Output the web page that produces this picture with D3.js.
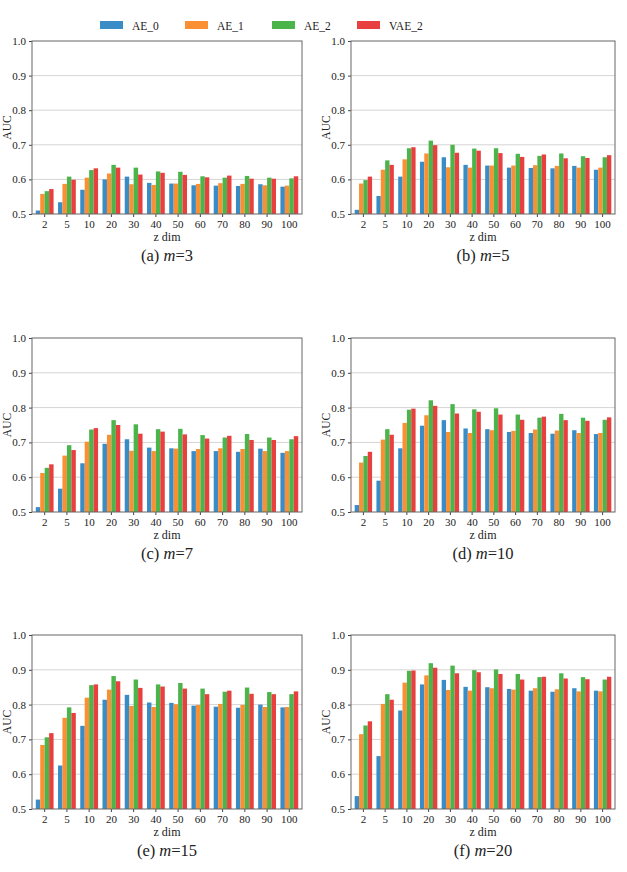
<!DOCTYPE html>
<html>
<head>
<meta charset="utf-8">
<script src="https://cdn.jsdelivr.net/npm/d3@7"></script>
<style>
  body { margin: 0; background: #fff; }
  text { font-family: "Liberation Serif", "DejaVu Serif", serif; fill: #222; }
</style>
</head>
<body>
<div id="chart"></div>
<script>
// categories (z dim) and series names
const zdims = ["2", "5", "10", "20", "30", "40", "50", "60", "70", "80", "90", "100"];
const seriesNames = ["AE_0", "AE_1", "AE_2", "VAE_2"];
const colors = ["#3a8cc6", "#fa8f33", "#4bb44b", "#e8403e"];
const yTicks = [0.5, 0.6, 0.7, 0.8, 0.9, 1.0];

// AUC values, one array per series for each panel
// (a) m=3
const m3_AE0  = [0.510, 0.534, 0.570, 0.600, 0.608, 0.590, 0.588, 0.583, 0.582, 0.581, 0.586, 0.579];
const m3_AE1  = [0.558, 0.587, 0.605, 0.617, 0.586, 0.584, 0.588, 0.587, 0.589, 0.587, 0.583, 0.582];
const m3_AE2  = [0.566, 0.608, 0.627, 0.642, 0.634, 0.623, 0.622, 0.609, 0.605, 0.610, 0.605, 0.603];
const m3_VAE2 = [0.572, 0.599, 0.632, 0.634, 0.614, 0.619, 0.613, 0.606, 0.611, 0.602, 0.602, 0.609];
// (b) m=5
const m5_AE0  = [0.512, 0.552, 0.608, 0.651, 0.664, 0.642, 0.640, 0.634, 0.633, 0.632, 0.639, 0.628];
const m5_AE1  = [0.588, 0.628, 0.658, 0.675, 0.635, 0.634, 0.640, 0.640, 0.641, 0.639, 0.634, 0.634];
const m5_AE2  = [0.598, 0.655, 0.690, 0.712, 0.700, 0.689, 0.690, 0.674, 0.668, 0.675, 0.667, 0.664];
const m5_VAE2 = [0.608, 0.642, 0.693, 0.699, 0.677, 0.683, 0.676, 0.665, 0.672, 0.661, 0.662, 0.670];
// (c) m=7
const m7_AE0  = [0.514, 0.567, 0.640, 0.696, 0.709, 0.685, 0.683, 0.675, 0.675, 0.673, 0.682, 0.670];
const m7_AE1  = [0.612, 0.662, 0.702, 0.722, 0.676, 0.675, 0.682, 0.681, 0.683, 0.681, 0.675, 0.675];
const m7_AE2  = [0.627, 0.692, 0.737, 0.764, 0.752, 0.738, 0.739, 0.721, 0.714, 0.724, 0.714, 0.709];
const m7_VAE2 = [0.637, 0.678, 0.741, 0.750, 0.725, 0.731, 0.723, 0.711, 0.719, 0.707, 0.707, 0.718];
// (d) m=10
const m10_AE0  = [0.520, 0.590, 0.683, 0.748, 0.764, 0.740, 0.738, 0.730, 0.727, 0.725, 0.735, 0.724];
const m10_AE1  = [0.642, 0.708, 0.756, 0.778, 0.730, 0.727, 0.735, 0.733, 0.737, 0.734, 0.727, 0.727];
const m10_AE2  = [0.661, 0.738, 0.794, 0.821, 0.810, 0.795, 0.798, 0.780, 0.771, 0.782, 0.771, 0.765];
const m10_VAE2 = [0.673, 0.722, 0.797, 0.805, 0.783, 0.788, 0.780, 0.765, 0.774, 0.764, 0.762, 0.772];
// (e) m=15
const m15_AE0  = [0.527, 0.625, 0.739, 0.814, 0.828, 0.806, 0.805, 0.797, 0.794, 0.791, 0.800, 0.792];
const m15_AE1  = [0.684, 0.762, 0.820, 0.843, 0.796, 0.793, 0.801, 0.799, 0.802, 0.799, 0.793, 0.793];
const m15_AE2  = [0.706, 0.792, 0.856, 0.882, 0.872, 0.858, 0.862, 0.846, 0.837, 0.849, 0.836, 0.830];
const m15_VAE2 = [0.718, 0.776, 0.858, 0.867, 0.848, 0.852, 0.846, 0.830, 0.840, 0.831, 0.830, 0.838];
// (f) m=20
const m20_AE0  = [0.537, 0.652, 0.783, 0.858, 0.871, 0.851, 0.850, 0.845, 0.840, 0.837, 0.847, 0.840];
const m20_AE1  = [0.715, 0.802, 0.863, 0.884, 0.842, 0.840, 0.847, 0.843, 0.847, 0.844, 0.838, 0.838];
const m20_AE2  = [0.740, 0.830, 0.897, 0.919, 0.912, 0.899, 0.901, 0.888, 0.879, 0.890, 0.879, 0.872];
const m20_VAE2 = [0.752, 0.814, 0.898, 0.906, 0.890, 0.893, 0.888, 0.872, 0.880, 0.875, 0.873, 0.880];

const panels = [
  { m: "3",  series: [m3_AE0, m3_AE1, m3_AE2, m3_VAE2],     box: [32, 41, 302, 214] },
  { m: "5",  series: [m5_AE0, m5_AE1, m5_AE2, m5_VAE2],     box: [351, 41, 615, 214] },
  { m: "7",  series: [m7_AE0, m7_AE1, m7_AE2, m7_VAE2],     box: [32, 338, 302, 512] },
  { m: "10", series: [m10_AE0, m10_AE1, m10_AE2, m10_VAE2], box: [351, 338, 615, 512] },
  { m: "15", series: [m15_AE0, m15_AE1, m15_AE2, m15_VAE2], box: [32, 635, 302, 809] },
  { m: "20", series: [m20_AE0, m20_AE1, m20_AE2, m20_VAE2], box: [351, 635, 615, 809] }
];
const letters = ["a", "b", "c", "d", "e", "f"];

const width = 627, height = 872;
const svg = d3.select("#chart").append("svg").attr("width", width).attr("height", height);

// legend
const legendX = [100, 185, 272, 357];
const legend = svg.append("g");
seriesNames.forEach(function (name, i) {
  legend.append("rect").attr("x", legendX[i]).attr("y", 21).attr("width", 23).attr("height", 8).attr("fill", colors[i]);
  legend.append("text").attr("x", legendX[i] + 32).attr("y", 29.5).attr("font-size", 11.5).text(name);
});

panels.forEach(function (p, pi) {
  const [x0, y0, x1, y1] = p.box;
  const g = svg.append("g");

  const xScale = d3.scaleBand().domain(zdims).range([x0, x1]).paddingInner(0.2).paddingOuter(0.17);
  const xInner = d3.scaleBand().domain(d3.range(4)).range([0, xScale.bandwidth()]);
  const yScale = d3.scaleLinear().domain([0.5, 1.0]).range([y1, y0]);

  // grid
  g.append("g").selectAll("line").data(yTicks.slice(1, -1)).enter().append("line")
    .attr("x1", x0).attr("x2", x1)
    .attr("y1", d => yScale(d)).attr("y2", d => yScale(d))
    .attr("stroke", "#d4d4d4").attr("stroke-width", 1);

  // bars
  const rows = zdims.map((z, i) => p.series.map((s, k) => ({ z: z, k: k, v: s[i] })));
  g.append("g").selectAll("g").data(rows).enter().append("g")
    .attr("transform", d => "translate(" + xScale(d[0].z) + ",0)")
    .selectAll("rect").data(d => d).enter().append("rect")
    .attr("x", d => xInner(d.k))
    .attr("y", d => yScale(d.v))
    .attr("width", xInner.bandwidth())
    .attr("height", d => yScale(0.5) - yScale(d.v))
    .attr("fill", d => colors[d.k]);

  // axes
  const yAxis = g.append("g").attr("transform", "translate(" + x0 + ",0)")
    .call(d3.axisLeft(yScale).tickValues(yTicks).tickFormat(d3.format(".1f")).tickSize(3).tickPadding(3));
  const xAxis = g.append("g").attr("transform", "translate(0," + y1 + ")")
    .call(d3.axisBottom(xScale).tickSize(3).tickPadding(3));
  [xAxis, yAxis].forEach(a => {
    a.select(".domain").remove();
    a.selectAll("line").attr("stroke", "#444");
    a.selectAll("text").attr("font-size", 11).attr("font-family", "Liberation Serif").attr("fill", "#222");
  });

  // frame
  g.append("rect").attr("x", x0).attr("y", y0).attr("width", x1 - x0).attr("height", y1 - y0)
    .attr("fill", "none").attr("stroke", "#666").attr("stroke-width", 1);

  // labels
  g.append("text").attr("x", (x0 + x1) / 2).attr("y", y1 + 27).attr("text-anchor", "middle")
    .attr("font-size", 12).text("z dim");
  g.append("text").attr("transform", "translate(" + (x0 - 21) + "," + ((y0 + y1) / 2) + ") rotate(-90)")
    .attr("text-anchor", "middle").attr("font-size", 11.5).text("AUC");

  const cap = g.append("text").attr("x", (x0 + x1) / 2).attr("y", y1 + 47).attr("text-anchor", "middle")
    .attr("font-size", 16.5);
  cap.append("tspan").text("(" + letters[pi] + ") ");
  cap.append("tspan").attr("font-style", "italic").text("m");
  cap.append("tspan").text("=" + p.m);
});
</script>
</body>
</html>
